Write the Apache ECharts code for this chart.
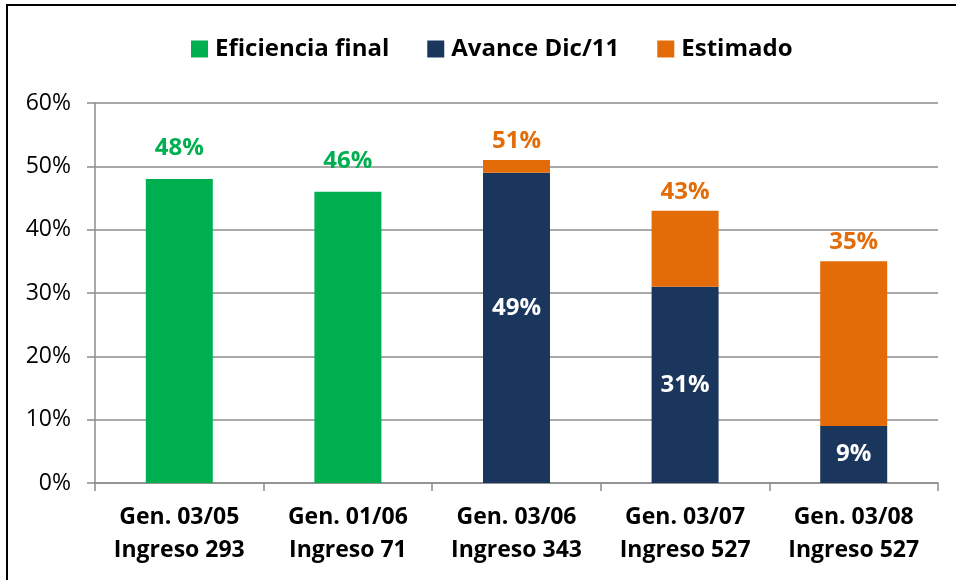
<!DOCTYPE html>
<html lang="es">
<head>
<meta charset="UTF-8">
<title>Eficiencia por generación</title>
<script src="https://cdn.jsdelivr.net/npm/echarts@6/dist/echarts.min.js"></script>
<style>
  html, body { margin: 0; padding: 0; background: #fff; }
  #chart { width: 956px; height: 580px; }
  #frame {
    position: absolute; left: 6px; top: 4px; width: 1000px; height: 700px;
    border-left: 2px solid #000; border-top: 2px solid #000;
    pointer-events: none;
  }
</style>
</head>
<body>
<div id="chart"></div>
<div id="frame"></div>
<script>
var categories = ['Gen. 03/05\nIngreso 293', 'Gen. 01/06\nIngreso 71', 'Gen. 03/06\nIngreso 343', 'Gen. 03/07\nIngreso 527', 'Gen. 03/08\nIngreso 527'];
var eficiencia = [48, 46, '-', '-', '-'];
var avance = ['-', '-', 49, 31, 9];
var estimadoTotal = ['-', '-', 51, 43, 35];
// the orange piece is what remains on top of the avance
var estimado = estimadoTotal.map(function (v, i) {
    return v === '-' ? '-' : v - avance[i];
});

var font = '"Open Sans", "Noto Sans", sans-serif';
var chart = echarts.init(document.getElementById('chart'));
chart.setOption({
    animation: false,
    textStyle: { fontFamily: font },
    legend: {
        left: 186, top: 32,
        itemWidth: 17, itemHeight: 17, itemGap: 38,
        icon: 'rect',
        textStyle: { fontSize: 24, fontWeight: 'bold', color: '#000', fontFamily: font, padding: [0, 0, 0, 2] },
        data: ['Eficiencia final', 'Avance Dic/11', 'Estimado']
    },
    grid: { left: 95, right: 18, top: 103, bottom: 97, containLabel: false },
    xAxis: {
        type: 'category',
        data: categories,
        axisLine: { lineStyle: { color: '#8c8c8c', width: 1.5 } },
        axisTick: { show: true, length: 8, lineStyle: { color: '#8c8c8c', width: 1.5 } },
        axisLabel: { interval: 0, fontSize: 23, fontWeight: 'bold', color: '#000', lineHeight: 33, margin: 18, fontFamily: font }
    },
    yAxis: {
        type: 'value', min: 0, max: 60, interval: 10,
        axisLine: { show: true, lineStyle: { color: '#8c8c8c', width: 1.5 } },
        axisTick: { show: true, length: 8, lineStyle: { color: '#8c8c8c', width: 1.5 } },
        splitLine: { lineStyle: { color: '#8c8c8c', width: 1.5 } },
        axisLabel: { formatter: '{value}%', fontSize: 23, color: '#000', margin: 24, fontFamily: font }
    },
    series: [
        {
            name: 'Eficiencia final', type: 'bar', stack: 'g', barWidth: 67,
            data: eficiencia,
            itemStyle: { color: '#00B050' },
            label: { show: true, position: 'top', distance: 19, formatter: '{c}%', fontSize: 24, fontWeight: 'bold', color: '#00B050', fontFamily: font }
        },
        {
            name: 'Avance Dic/11', type: 'bar', stack: 'g', barWidth: 67,
            // the tall bar's label sits a little above centre in the original
            data: avance.map(function (v, i) {
                return i === 2 ? { value: v, label: { offset: [0, -20] } } : v;
            }),
            itemStyle: { color: '#1B365D' },
            label: { show: true, position: 'inside', formatter: '{c}%', fontSize: 24, fontWeight: 'bold', color: '#fff', fontFamily: font }
        },
        {
            name: 'Estimado', type: 'bar', stack: 'g', barWidth: 67,
            data: estimado,
            itemStyle: { color: '#E36C09' },
            label: {
                show: true, position: 'top', distance: 7,
                formatter: function (p) { return estimadoTotal[p.dataIndex] + '%'; },
                fontSize: 24, fontWeight: 'bold', color: '#E36C09', fontFamily: font
            }
        }
    ]
});
</script>
</body>
</html>
